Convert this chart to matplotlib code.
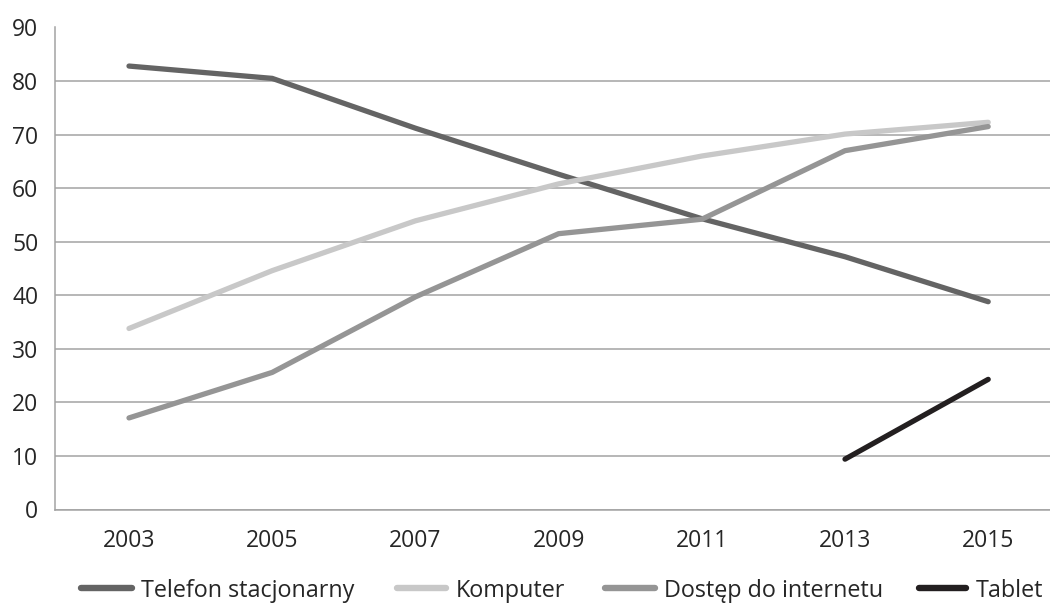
import matplotlib
matplotlib.use("Agg")
import matplotlib.pyplot as plt
from matplotlib.lines import Line2D

plt.rcParams['font.family'] = ['Open Sans', 'DejaVu Sans']

years = ["2003", "2005", "2007", "2009", "2011", "2013", "2015"]
telefon = [82.8, 80.5, 71.2, 62.6, 54.3, 47.2, 38.8]
komputer = [33.8, 44.6, 53.9, 60.8, 66.0, 70.1, 72.3]
internet = [17.1, 25.6, 39.7, 51.5, 54.2, 67.0, 71.5]
tablet = [None, None, None, None, None, 9.4, 24.3]

series_names = ["Telefon stacjonarny", "Komputer", "Dostęp do internetu", "Tablet"]
series_colors = ["#646464", "#c8c8c8", "#959595", "#231f20"]
text_color = "#262626"

W, H = 1050, 603
fig = plt.figure(figsize=(W / 100, H / 100), dpi=100)
ax = fig.add_axes([55 / W, 1 - 509.5 / H, 1 - 55 / W, (509.5 - 27.5) / H])

x = list(range(len(years)))
for vals, name, col in zip([telefon, komputer, internet, tablet], series_names, series_colors):
    xs = [i for i, v in zip(x, vals) if v is not None]
    ys = [v for v in vals if v is not None]
    ax.plot(xs, ys, color=col, lw=3.8, solid_capstyle='round', solid_joinstyle='round',
            label=name, zorder=3)

ax.set_ylim(0, 90)
ax.set_yticks(range(0, 91, 10))
ax.set_xlim((55 - 129) / 143.2, (W - 129) / 143.2)
ax.set_xticks(x)
ax.set_xticklabels(years)
ax.yaxis.grid(True, color="#a3a3a3", lw=1.1)
ax.set_axisbelow(True)
for s in ["top", "right"]:
    ax.spines[s].set_visible(False)
for s in ["left", "bottom"]:
    ax.spines[s].set_color("#a3a3a3")
    ax.spines[s].set_linewidth(1.1)
ax.tick_params(axis='both', length=0, labelsize=16.5, colors=text_color)
ax.tick_params(axis='x', pad=14)
ax.tick_params(axis='y', pad=12)

# legend row along the bottom edge: handle start, handle end, text start (pixels)
legend_slots = [(81, 132, 141), (397, 446, 456), (605, 655, 664), (919, 966, 976)]
ly = 1 - 588 / H
for (h0, h1, t0), name, col in zip(legend_slots, series_names, series_colors):
    fig.add_artist(Line2D([h0 / W, h1 / W], [ly, ly], transform=fig.transFigure,
                          color=col, lw=4.6, solid_capstyle='round'))
    fig.text(t0 / W, ly, name, fontsize=16.8, color=text_color, ha='left', va='center_baseline')

fig.savefig("out.png", dpi=100)
